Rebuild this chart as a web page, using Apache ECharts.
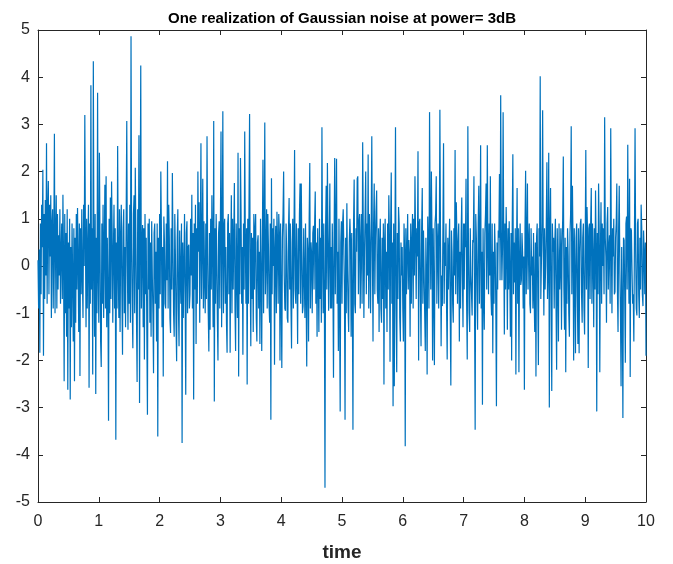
<!DOCTYPE html>
<html>
<head>
<meta charset="utf-8">
<script src="https://cdn.jsdelivr.net/npm/echarts@6/dist/echarts.min.js"></script>
<style>
html,body{margin:0;padding:0;background:#fff;}
#chart{width:673px;height:564px;}
</style>
</head>
<body>
<div id="chart"></div>
<script>
// Sampling: t = 0 : 0.01 : 10
const tStart = 0;
const tStep = 0.01;
// Noise values (one per sample)
const noise = [
0.12,-0.9,0.35,-1.84,0.9,-0.6,1.3,0.4,2.04,-1.9,
1.1,-0.7,1.4,-0.2,2.6,-0.8,1.2,1.8,-0.6,1.3,
0.2,1.5,-1.1,0.9,1.2,-0.9,0.5,2.8,-1.0,0.6,
1.5,-0.9,1.1,-0.5,0.65,-0.2,1.2,-0.8,0.3,0.9,
-0.7,1.51,0.2,-2.44,1.1,-1.0,0.7,-1.5,1.2,-2.62,
0.5,-0.9,1.0,-2.83,0.4,-1.3,0.9,-0.3,-1.6,0.8,
-2.44,0.6,-1.2,1.1,-0.5,1.23,0.1,-1.4,0.9,-2.33,
0.8,-0.6,1.2,-0.2,-1.1,1.3,0.0,3.2,0.6,-1.3,
1.0,-0.9,0.4,1.3,-2.58,0.9,-0.8,3.83,-0.5,0.8,
-2.3,4.34,0.2,-1.5,1.1,-2.71,0.6,-1.0,3.67,-0.2,
-1.2,2.4,0.5,-1.6,-2.14,0.9,-0.8,1.3,-1.1,0.4,
1.72,-0.9,1.9,-1.3,0.6,-0.6,-3.28,1.0,-1.0,1.45,
-0.7,1.79,0.7,-1.2,0.3,1.3,-0.9,0.8,-3.68,0.5,
-0.9,2.54,-0.1,-1.1,1.2,-1.4,0.6,1.3,-0.6,-1.88,
0.8,1.2,-1.0,0.4,-1.3,1.0,3.07,0.0,-1.35,0.9,
-0.8,1.3,-1.2,4.87,0.4,-0.9,-1.74,1.1,1.5,-1.0,
2.08,0.6,-1.1,-2.46,1.2,-0.5,2.77,-2.9,0.7,4.25,
-0.9,0.4,0.87,-1.3,0.8,-1.98,1.1,-0.6,0.6,-1.4,
-3.15,0.9,-0.5,1.0,-1.2,0.5,-1.5,0.95,-0.2,-1.0,
-2.27,0.7,0.9,-0.8,0.3,-1.6,0.9,-3.61,0.6,-0.9,
1.1,-0.6,2.0,0.7,-1.3,0.4,-2.34,1.05,0.5,-0.8,
-0.9,0.9,-0.3,2.22,-0.9,1.3,0.6,-1.1,-1.42,0.8,
-0.5,1.97,0.4,-1.0,-1.5,1.1,0.2,-1.2,-2.02,0.6,
1.2,-0.9,-1.7,0.75,-0.2,-0.8,0.9,-3.75,0.5,-1.1,
0.0,1.1,-0.6,-2.73,0.7,0.95,-1.0,0.4,0.45,-0.9,
-0.6,1.0,-0.2,1.51,-0.9,0.7,-2.83,0.9,-0.5,1.3,
-1.65,0.8,-0.8,2.0,0.3,1.35,-1.2,0.6,2.6,-0.7,
0.5,1.85,-0.9,0.95,-0.3,-1.0,0.9,-0.7,2.75,0.3,
-1.0,-1.81,0.7,-1.35,1.0,-0.5,1.5,0.4,-1.3,3.07,
-2.87,0.8,-0.8,1.1,0.2,-1.1,-2.0,0.7,0.95,-0.9,
0.9,2.85,-1.3,0.5,3.28,-1.0,0.8,1.0,-0.8,0.4,
-1.2,-1.84,0.9,1.1,-0.6,0.7,-1.84,0.3,1.5,-1.0,
1.0,-0.5,0.6,1.76,-0.9,-1.8,0.9,-0.2,-1.1,2.4,
-2.34,0.8,-0.6,2.29,1.1,-0.8,0.4,-1.88,0.9,-0.5,
2.85,0.5,-0.8,0.8,-2.51,1.0,-0.8,1.2,3.22,-0.1,
-1.7,0.7,-0.7,0.6,-1.4,1.1,-0.5,0.8,1.1,-1.1,
-1.6,0.5,0.65,-0.9,0.3,-1.65,1.0,-0.2,-1.8,0.6,
2.25,-1.0,0.8,3.04,-0.6,0.15,1.2,-0.9,1.1,0.4,
-0.8,-1.2,0.9,-3.26,1.86,-0.6,0.8,0.0,1.0,-2.09,
0.3,0.85,-1.0,1.15,0.5,-0.8,1.1,0.7,-2.0,0.9,
-0.6,-2.16,0.6,1.1,2.0,-0.2,-0.9,-0.95,0.9,0.3,
-1.1,-1.2,0.8,1.44,-0.5,0.9,-0.8,-1.75,0.5,1.0,
-0.9,0.6,2.46,-0.5,-0.8,0.9,-0.2,-1.65,0.8,-0.6,
1.1,1.75,-0.8,1.75,0.3,-1.0,-0.85,0.8,-0.2,-1.1,
0.9,-0.6,-2.13,0.6,0.3,-1.6,1.0,2.18,-0.9,0.5,
0.25,-1.0,0.7,0.85,-0.5,0.9,1.58,-0.8,0.5,-1.5,
0.8,-0.2,-1.4,1.0,-0.7,0.6,-1.2,2.94,0.3,-1.0,
0.9,-0.6,-4.7,0.8,1.7,-0.5,2.18,0.6,-0.95,0.4,
1.75,-0.9,0.4,-0.9,0.9,-0.2,-2.37,0.6,2.29,-0.6,
0.8,2.27,-0.8,0.3,-1.8,1.0,-0.9,-3.08,0.5,0.95,
-0.8,0.9,1.2,1.18,-0.5,-3.26,0.6,-1.0,1.33,-0.1,
-0.9,-1.4,0.5,1.0,0.55,-1.5,0.7,-0.7,-3.47,0.9,
1.83,-0.8,-1.0,0.8,0.3,1.85,1.9,-0.6,0.9,1.1,
-0.9,0.5,1.1,-0.8,2.62,0.8,-1.1,0.3,1.1,2.0,
-0.6,0.9,-0.2,2.36,-0.9,1.1,0.4,-1.0,0.8,2.75,
0.3,-1.6,0.9,1.75,-0.6,0.6,1.2,1.6,-0.5,-0.8,
0.8,-1.4,0.5,1.0,-0.9,-1.2,0.6,-0.7,0.9,-2.51,
0.5,1.0,-0.9,0.3,-1.4,0.9,-0.5,1.5,0.6,-2.03,
0.8,1.98,-0.8,0.5,-2.97,0.9,-2.55,0.3,2.94,-0.9,
-2.25,0.7,-0.7,1.25,0.9,-1.1,-1.6,0.5,-0.2,0.4,
-0.9,-1.6,0.9,0.3,-3.82,0.8,-0.6,0.35,1.1,-0.5,
0.55,0.2,-1.5,0.9,-0.8,0.5,1.1,-0.9,1.0,-0.2,
1.9,0.6,-0.7,0.8,0.2,2.43,-2.0,0.9,1.0,-0.6,
-1.7,0.8,1.65,-0.8,0.75,-0.1,-1.0,-1.8,0.6,-0.2,
-2.3,1.05,0.4,-0.9,3.26,0.9,-0.5,2.0,0.6,-2.0,
0.8,-0.6,-2.1,0.9,1.1,1.9,-0.8,0.4,0.9,-0.9,
0.2,3.31,0.6,-1.7,-0.2,-0.85,0.8,2.6,-0.8,0.5,
0.0,0.9,-0.9,-1.98,0.6,-0.5,0.35,1.0,-1.0,-2.53,
0.75,0.3,-0.8,-1.2,0.8,-0.2,2.46,-0.6,1.35,0.6,
-0.8,0.5,0.9,-1.6,0.3,-0.9,0.7,1.45,-0.2,-1.3,
0.9,-0.5,0.9,0.4,1.85,-0.8,-1.98,2.96,0.3,-1.0,
-1.4,0.8,-0.2,-0.6,-1.05,0.55,0.5,1.9,-0.9,-3.47,
1.1,0.6,-0.5,-1.35,0.9,1.7,-0.8,0.5,2.56,-0.9,
0.3,-2.94,0.8,-0.6,-1.35,0.7,1.1,1.75,-0.5,2.56,
0.4,-0.6,0.9,-0.2,1.9,-0.6,-1.05,0.9,-1.85,0.3,
-0.8,0.9,0.3,-0.9,-2.97,0.5,-0.5,0.75,0.6,1.95,
-0.3,3.62,0.8,-0.3,0.4,3.26,0.6,-1.45,0.9,-0.5,
1.25,0.4,-1.35,0.8,-0.5,0.95,-0.2,-1.5,0.7,-2.0,
0.9,2.37,-0.6,0.5,-0.35,0.8,-2.3,0.3,1.65,-0.8,
0.8,-2.25,0.2,0.9,-0.4,-0.3,0.7,0.3,-0.9,0.2,
-2.62,0.8,2.02,-0.6,0.6,1.75,-0.5,0.5,0.9,-0.8,
-1.0,0.8,-0.2,0.2,-0.9,0.7,-0.65,-1.4,0.5,-2.34,
0.6,0.9,-0.6,-2.1,0.8,0.2,4.02,-0.7,-0.7,0.9,
3.3,0.3,-1.05,0.8,-0.5,0.0,0.9,2.2,-0.7,0.0,
2.4,-3.0,0.8,1.65,-0.6,-2.65,0.9,0.3,0.6,-0.9,
0.5,1.0,-0.8,-2.2,0.8,-0.2,-1.6,0.9,-0.5,0.0,
0.8,-1.35,0.4,1.0,2.32,-0.5,-1.35,0.6,-2.25,0.4,
-0.8,0.8,0.2,-1.0,-1.5,0.7,1.1,2.96,-0.6,1.7,
0.4,-2.0,0.8,-0.2,-1.85,0.6,0.9,-0.6,-1.65,0.8,
-1.85,0.3,0.9,1.0,-0.6,-1.2,0.6,0.9,-0.9,-1.45,
0.5,2.46,-0.5,1.25,0.6,-2.16,0.8,0.9,-0.7,0.9,
1.65,-0.8,0.9,0.2,-1.3,0.8,-0.5,1.6,0.4,-3.08,
0.7,-0.6,1.75,0.8,-2.25,0.3,1.35,-0.8,0.9,0.0,
0.8,-0.6,3.15,0.6,0.2,-1.2,0.9,1.25,-0.5,0.4,
0.65,-0.8,2.92,0.5,-1.0,0.8,0.2,1.0,-0.6,-0.55,
0.6,0.9,1.75,-0.5,-1.4,0.8,1.7,-0.1,-1.0,-2.55,
0.4,-0.9,-3.22,0.6,0.55,-0.6,-2.05,0.9,1.05,-0.5,
2.57,0.4,-0.8,1.85,-2.35,0.8,0.75,-0.1,-0.8,-0.6,
-1.6,0.6,2.92,0.3,-0.9,-1.05,0.9,1.0,-0.6,-1.1,
0.6,-0.5,1.3,0.8,-0.6,-0.85,0.75,0.3,-0.6,0.5,
-1.9
];
const xTicks = [0,1,2,3,4,5,6,7,8,9,10];
const yTicks = [-5,-4,-3,-2,-1,0,1,2,3,4,5];
const titleText = 'One realization of Gaussian noise at power= 3dB';
const xLabel = 'time';

const seriesData = noise.map((v, i) => [tStart + i * tStep, v]);

const axisColor = '#262626';
const font = 'Arial, "Liberation Sans", Helvetica, sans-serif';

const chart = echarts.init(document.getElementById('chart'), null, {renderer: 'canvas'});
const baseX = {
  type: 'value', min: xTicks[0], max: xTicks[xTicks.length - 1], interval: 1,
  splitLine: {show: false},
  axisLine: {show: true, onZero: false, lineStyle: {color: axisColor, width: 1}},
  axisTick: {show: true, inside: true, length: 5, lineStyle: {color: axisColor, width: 1}}
};
const baseY = {
  type: 'value', min: yTicks[0], max: yTicks[yTicks.length - 1], interval: 1,
  splitLine: {show: false},
  axisLine: {show: true, onZero: false, lineStyle: {color: axisColor, width: 1}},
  axisTick: {show: true, inside: true, length: 5, lineStyle: {color: axisColor, width: 1}}
};
chart.setOption({
  animation: false,
  backgroundColor: '#ffffff',
  grid: {left: 38, right: 27, top: 30, bottom: 62, containLabel: false, outerBoundsMode: 'none'},
  xAxis: [
    Object.assign({}, baseX, {
      position: 'bottom',
      name: xLabel, nameLocation: 'middle', nameGap: 41,
      nameTextStyle: {color: axisColor, fontFamily: font, fontWeight: 'bold', fontSize: 19},
      axisLabel: {show: true, color: axisColor, fontFamily: font, fontSize: 16, margin: 12}
    }),
    Object.assign({}, baseX, {
      position: 'top',
      name: titleText, nameLocation: 'middle', nameGap: 4,
      nameTextStyle: {color: '#000', fontFamily: font, fontWeight: 'bold', fontSize: 15},
      axisLabel: {show: false}
    })
  ],
  yAxis: [
    Object.assign({}, baseY, {
      position: 'left',
      axisLabel: {show: true, color: axisColor, fontFamily: font, fontSize: 16, margin: 8}
    }),
    Object.assign({}, baseY, {position: 'right', axisLabel: {show: false}})
  ],
  series: [{
    type: 'line',
    xAxisIndex: 0, yAxisIndex: 0,
    data: seriesData,
    showSymbol: false,
    symbol: 'none',
    sampling: null,
    lineStyle: {color: '#0072BD', width: 1.2},
    itemStyle: {color: '#0072BD'}
  }]
});
</script>
</body>
</html>
